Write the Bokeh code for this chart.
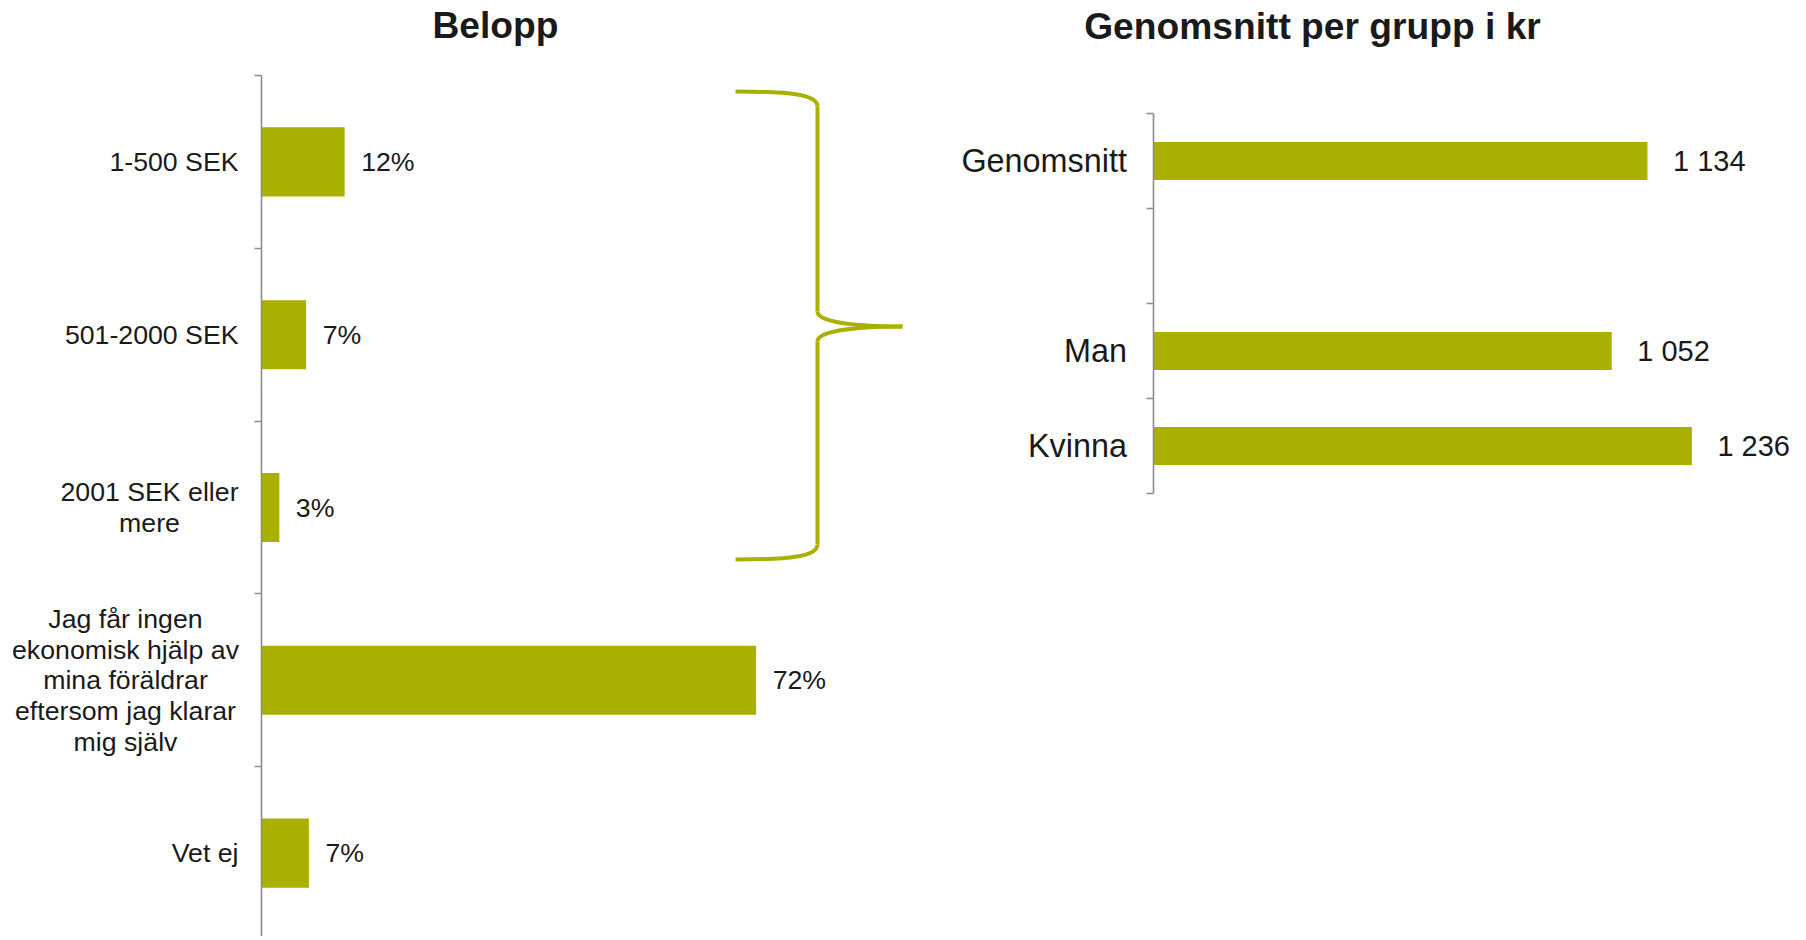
from bokeh.plotting import figure
from bokeh.models import Range1d, FixedTicker, LabelSet, Label, LinearAxis, ColumnDataSource
from bokeh.core.properties import value
from bokeh.layouts import row
from bokeh.embed import file_html
from bokeh.resources import INLINE

# ---------------- data ----------------
amount_categories = [
    "1-500 SEK",
    "501-2000 SEK",
    "2001 SEK eller\nmere",
    "Jag får ingen\nekonomisk hjälp av\nmina föräldrar\neftersom jag klarar\nmig själv",
    "Vet ej",
]
amount_share = [12.1, 6.5, 2.6, 72.0, 6.9]   # percent

group_categories = ["Genomsnitt", "", "Man", "Kvinna"]
group_average = [1134, None, 1052, 1236]      # kr

left_title = "Belopp"
right_title = "Genomsnitt per grupp i kr"

# ---------------- style / layout ----------------
OLIVE = "#AAB000"
TEXT = "#1a1a1a"
AXIS = "#8c8c8c"
FONT = "Liberation Sans"

H = 936
L_W = 940
L_AXIS = 261          # x of left value axis (px in figure)
L_TOP = 75            # y of top of left category axis
L_SLOT = 172.8        # px per category
L_PX_PER = 6.87       # px per percent
R_W = 860
R_AXIS = 1153 - L_W   # x of right value axis (px in right figure)
R_TOP = 113
R_SLOT = 95.0
R_PX_PER = 0.4356

LEFT_FS = "26.7px"
RIGHT_CAT_FS = "32.4px"
RIGHT_VAL_FS = "29px"
TITLE_FS = "37.2px"


def make_fig(width, axis_px, px_per, top_px, slot_px):
    p = figure(width=width, height=H, output_backend="svg", toolbar_location=None,
               x_range=Range1d(-axis_px / px_per, (width - axis_px) / px_per),
               y_range=Range1d((H - top_px) / slot_px, -top_px / slot_px),
               x_axis_location=None, y_axis_location=None, title_location=None,
               min_border_left=0, min_border_right=0, min_border_top=0, min_border_bottom=0)
    p.outline_line_color = None
    p.grid.visible = False
    return p


def add_cat_axis(p, n):
    ax = LinearAxis(fixed_location=0, bounds=(0, n))
    ax.ticker = FixedTicker(ticks=list(range(n + 1)))
    ax.major_label_text_font_size = "0px"
    ax.major_label_overrides = {i: "" for i in range(n + 1)}
    ax.minor_tick_line_color = None
    ax.major_tick_in = 0
    ax.major_tick_out = 7
    ax.major_tick_line_color = AXIS
    ax.major_tick_line_width = 1.6
    ax.axis_line_color = AXIS
    ax.axis_line_width = 1.6
    p.add_layout(ax, "left")


# ---------------- left chart ----------------
left = make_fig(L_W, L_AXIS, L_PX_PER, L_TOP, L_SLOT)


def lx(px):
    return (px - L_AXIS) / L_PX_PER


def ly(py):
    return (py - L_TOP) / L_SLOT


n_left = len(amount_categories)
ypos = [i + 0.5 for i in range(n_left)]
src = ColumnDataSource(dict(y=ypos, v=amount_share,
                            lab=[f"{int(v + 0.5)}%" for v in amount_share]))
left.hbar(y="y", right="v", left=0, height=0.4, source=src,
          fill_color=OLIVE, line_color=None)
left.add_layout(LabelSet(x="v", y="y", text="lab", source=src, x_offset=16.5,
                         text_align="left", text_baseline="middle",
                         text_font=value(FONT), text_font_size=LEFT_FS, text_color=TEXT))
add_cat_axis(left, n_left)

# category labels: block right edge ~23px left of axis, lines centred inside multi-line blocks
block_center_px = {2: 112, 3: 136}
line_px = 30.7
cx_, cy_, ct_, ca_, co_ = [], [], [], [], []
for i, cat in enumerate(amount_categories):
    lines = cat.split("\n")
    n = len(lines)
    for k, line in enumerate(lines):
        cx_.append(0)
        cy_.append(ypos[i] + (k - (n - 1) / 2) * line_px / L_SLOT)
        ct_.append(line)
        if n == 1:
            ca_.append("right")
            co_.append(-23)
        else:
            ca_.append("center")
            co_.append(-block_center_px[i])
csrc = ColumnDataSource(dict(x=cx_, y=cy_, t=ct_, a=ca_, o=co_))
left.add_layout(LabelSet(x="x", y="y", text="t", source=csrc, x_offset="o",
                         text_align="a", text_baseline="middle",
                         text_font=value(FONT), text_font_size=LEFT_FS, text_color=TEXT))

left.add_layout(Label(x=lx(495), y=ly(24), text=left_title, text_align="center",
                      text_baseline="alphabetic", text_font=FONT,
                      text_font_size=TITLE_FS, text_font_style="bold", text_color=TEXT))

# brace grouping the three amount categories (decoration)
bx0, bx1, bx2 = lx(735), lx(817), lx(902)
top, bot, tip = ly(91), ly(559), ly(326)
r = ly(106) - ly(91)
left.bezier(x0=[bx0, bx1, bx2, bx1], y0=[top, tip - r, tip, bot - r],
            x1=[bx1, bx2, bx1, bx0], y1=[top + r, tip, tip + r, bot],
            cx0=[lx(790), bx1, lx(850), bx1], cy0=[top, tip - r * 0.35, tip, bot - r * 0.2],
            cx1=[bx1, lx(850), bx1, lx(790)], cy1=[top + r * 0.2, tip, tip + r * 0.35, bot],
            line_color=OLIVE, line_width=4)
left.segment(x0=[bx1, bx1], y0=[top + r, tip + r], x1=[bx1, bx1], y1=[tip - r, bot - r],
             line_color=OLIVE, line_width=4)

# ---------------- right chart ----------------
right = make_fig(R_W, R_AXIS, R_PX_PER, R_TOP, R_SLOT)


def rx(px):
    return (px - R_AXIS - L_W) / R_PX_PER


def ry(py):
    return (py - R_TOP) / R_SLOT


n_right = len(group_categories)
ry_pos = [i + 0.5 for i in range(n_right)]
keep = [i for i, v in enumerate(group_average) if v is not None]
rsrc = ColumnDataSource(dict(
    y=[ry_pos[i] for i in keep],
    v=[group_average[i] for i in keep],
    lab=[f"{group_average[i]:,}".replace(",", " ") for i in keep],
    cat=[group_categories[i] for i in keep],
    x0=[0 for _ in keep]))
right.hbar(y="y", right="v", left=0, height=0.4, source=rsrc,
           fill_color=OLIVE, line_color=None)
right.add_layout(LabelSet(x="v", y="y", text="lab", source=rsrc, x_offset=25.5,
                          text_align="left", text_baseline="middle",
                          text_font=value(FONT), text_font_size=RIGHT_VAL_FS, text_color=TEXT))
right.add_layout(LabelSet(x="x0", y="y", text="cat", source=rsrc, x_offset=-26.5,
                          text_align="right", text_baseline="middle",
                          text_font=value(FONT), text_font_size=RIGHT_CAT_FS, text_color=TEXT))
add_cat_axis(right, n_right)

right.add_layout(Label(x=rx(1312), y=ry(25), text=right_title, text_align="center",
                       text_baseline="alphabetic", text_font=FONT,
                       text_font_size=TITLE_FS, text_font_style="bold", text_color=TEXT))

page = row(left, right)
open("out.html", "w").write(file_html(page, INLINE))
